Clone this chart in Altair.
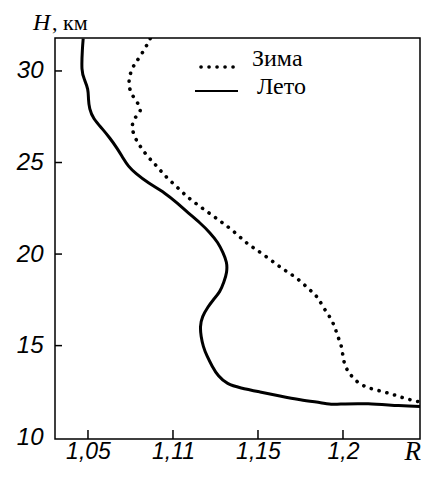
import altair as alt
import pandas as pd

# ---- data ----
summer_r = [1.0472, 1.0467, 1.0461, 1.0478, 1.0502, 1.0502, 1.0508, 1.0531, 1.0584, 1.0631,
            1.0672, 1.0707, 1.0737, 1.0778, 1.0854, 1.0954, 1.1024, 1.1089, 1.1159, 1.1218,
            1.1265, 1.1294, 1.1318, 1.1318, 1.1300, 1.1277, 1.1236, 1.1206, 1.1171, 1.1159,
            1.1165, 1.1177, 1.1200, 1.1230, 1.1265, 1.1318, 1.1394, 1.1512, 1.1629, 1.1746,
            1.1881, 1.1940, 1.1999, 1.2140, 1.2333, 1.2492]
summer_h = [31.77, 31.23, 29.98, 29.55, 29.01, 28.47, 27.93, 27.39, 26.85, 26.31,
            25.77, 25.23, 24.79, 24.42, 23.88, 23.34, 22.79, 22.25, 21.71, 21.17,
            20.63, 20.09, 19.55, 19.01, 18.47, 17.93, 17.50, 17.12, 16.58, 16.04,
            15.50, 14.96, 14.42, 13.88, 13.33, 12.90, 12.69, 12.47, 12.25, 12.04,
            11.87, 11.77, 11.82, 11.85, 11.71, 11.66]

winter_r = [1.0866, 1.0836, 1.0795, 1.0772, 1.0748, 1.0737, 1.0754, 1.0789, 1.0819, 1.0778,
            1.0760, 1.0760, 1.0778, 1.0807, 1.0836, 1.0877, 1.0907, 1.0948, 1.1030, 1.1089,
            1.1171, 1.1265, 1.1347, 1.1441, 1.1488, 1.1570, 1.1647, 1.1729, 1.1805, 1.1852,
            1.1881, 1.1923, 1.1952, 1.1969, 1.1993, 1.1999, 1.2011, 1.2040, 1.2087, 1.2146,
            1.2216, 1.2287, 1.2351, 1.2422, 1.2481]
winter_h = [31.77, 31.23, 30.63, 30.36, 29.88, 29.28, 28.74, 28.31, 27.82, 27.50,
            27.12, 26.79, 26.31, 25.88, 25.50, 25.06, 24.79, 24.31, 23.61, 23.07,
            22.52, 21.88, 21.34, 20.52, 20.27, 19.71, 19.17, 18.71, 18.04, 17.66,
            17.12, 16.58, 16.04, 15.50, 14.96, 14.42, 13.88, 13.44, 12.96, 12.69,
            12.53, 12.36, 12.15, 11.98, 11.87]

series_names = ["Зима", "Лето"]
x_tick_values = [1.05, 1.10, 1.15, 1.20]
x_tick_labels = ["1,05", "1,11", "1,15", "1,2"]
y_tick_values = [15, 20, 25, 30]
y_label_values = [10, 15, 20, 25, 30]
y_title_parts = ["H", ", км"]
x_title = ["R"]

# ---- layout (kept inside the 429x477 window: no overflow) ----
W, H = 365, 401
xs = alt.Scale(domain=[1.0306, 1.2453], nice=False, zero=False)
ys = alt.Scale(domain=[9.9, 31.8], nice=False, zero=False)

summer = pd.DataFrame({"r": summer_r, "h": summer_h, "i": list(range(len(summer_r)))})
winter = pd.DataFrame({"r": winter_r, "h": winter_h, "i": list(range(len(winter_r)))})

label_expr = ("[" + ",".join(f"'{l}'" for l in x_tick_labels) + "][indexof(["
              + ",".join(str(v) for v in x_tick_values) + "], datum.value)]")

x_axis = alt.Axis(values=x_tick_values, labelExpr=label_expr, ticks=False, domain=False,
                  grid=False, title=None, labelFont="Liberation Sans", labelFontStyle="italic",
                  labelFontSize=23, labelPadding=1, labelColor="black", labelFlush=False)
y_axis = alt.Axis(values=y_label_values, ticks=False, domain=False, grid=False, title=None,
                  labelFont="Liberation Sans", labelFontStyle="italic", labelFontSize=24,
                  labelPadding=12, labelColor="black", labelFlush=False)

X = alt.X("r:Q", scale=xs, axis=x_axis)
Y = alt.Y("h:Q", scale=ys, axis=y_axis)

summer_line = alt.Chart(summer).mark_line(
    color="black", strokeWidth=3, clip=True, interpolate="basis"
).encode(x=X, y=Y, order="i:Q")
winter_line = alt.Chart(winter).mark_line(
    color="black", strokeWidth=3.6, strokeDash=[0.1, 7.9], strokeCap="round", clip=True,
    interpolate="basis"
).encode(x=X, y=Y, order="i:Q")

xticks = alt.Chart(pd.DataFrame({"r": x_tick_values})).mark_rule(color="black", strokeWidth=1.5).encode(
    x=X, y=alt.value(H), y2=alt.value(H - 9)
)
yticks = alt.Chart(pd.DataFrame({"h": y_tick_values})).mark_rule(color="black", strokeWidth=1.5).encode(
    y=Y, x=alt.value(0), x2=alt.value(7)
)

# legend (inside the plot, top)
leg_dots = alt.Chart(pd.DataFrame({"n": [series_names[0]]})).mark_rule(
    color="black", strokeWidth=3.6, strokeDash=[0.1, 7.9], strokeCap="round"
).encode(x=alt.value(146), x2=alt.value(184), y=alt.value(29))
leg_solid = alt.Chart(pd.DataFrame({"n": [series_names[1]]})).mark_rule(
    color="black", strokeWidth=2
).encode(x=alt.value(140), x2=alt.value(183), y=alt.value(53))
leg_t1 = alt.Chart(pd.DataFrame({"n": [series_names[0]]})).mark_text(
    font="Liberation Serif", fontSize=24, align="left", baseline="alphabetic", color="black"
).encode(text="n:N", x=alt.value(197), y=alt.value(28))
leg_t2 = alt.Chart(pd.DataFrame({"n": [series_names[1]]})).mark_text(
    font="Liberation Serif", fontSize=24, align="left", baseline="alphabetic", color="black"
).encode(text="n:N", x=alt.value(202), y=alt.value(56))

# axis titles
t_h = alt.Chart(pd.DataFrame({"t": [y_title_parts[0]]})).mark_text(
    font="Liberation Serif", fontSize=24, fontStyle="italic", align="left",
    baseline="alphabetic", color="black"
).encode(text="t:N", x=alt.value(-22), y=alt.value(-8))
t_km = alt.Chart(pd.DataFrame({"t": [y_title_parts[1]]})).mark_text(
    font="Liberation Serif", fontSize=22, align="left", baseline="alphabetic", color="black"
).encode(text="t:N", x=alt.value(-3), y=alt.value(-8))
t_r = alt.Chart(pd.DataFrame({"t": x_title})).mark_text(
    font="Liberation Serif", fontSize=27, fontStyle="italic", align="right",
    baseline="alphabetic", color="black"
).encode(text="t:N", x=alt.value(W + 1), y=alt.value(H + 21))

chart = alt.layer(
    summer_line, winter_line, xticks, yticks, leg_dots, leg_solid, leg_t1, leg_t2, t_h, t_km, t_r
).properties(
    width=W, height=H, autosize="none",
    padding={"left": 47, "top": 30, "right": 1, "bottom": 26},
    background="white",
).configure_view(stroke="black", strokeWidth=1.5)

chart.save("out.html", embed_options={"renderer": "svg", "actions": False})
